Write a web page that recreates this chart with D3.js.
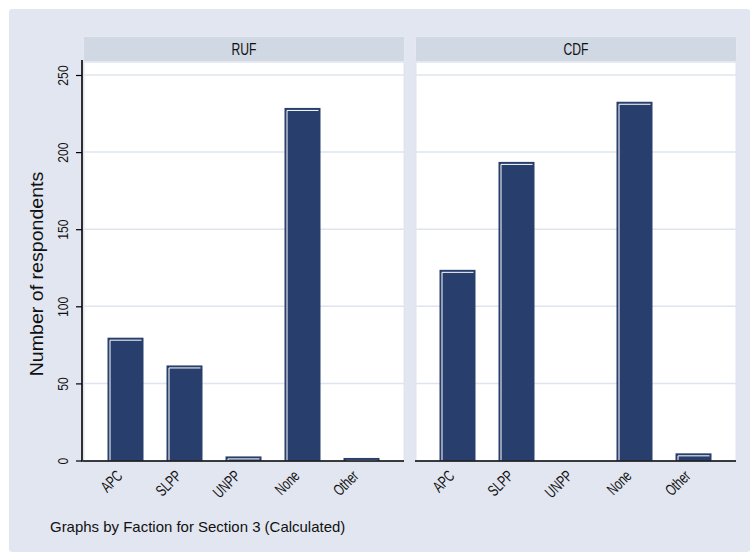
<!DOCTYPE html>
<html>
<head>
<meta charset="utf-8">
<script src="https://cdn.jsdelivr.net/npm/d3@7"></script>
<style>
  html, body { margin: 0; padding: 0; background: #ffffff; }
  svg { display: block; font-family: "Liberation Sans", Arial, sans-serif; }
</style>
</head>
<body>
<svg id="chart" width="750" height="552"></svg>
<script>
// ---- data ----
const categories = ["APC", "SLPP", "UNPP", "None", "Other"];
const panels = ["RUF", "CDF"];
const rufValues = [79, 61, 2, 228, 1];
const cdfValues = [123, 193, 0, 232, 4];
const yTicks = [0, 50, 100, 150, 200, 250];
const yTitle = "Number of respondents";
const note = "Graphs by Faction for Section 3 (Calculated)";

const seriesByPanel = [rufValues, cdfValues];

// ---- styles ----
const BG = "#e1e6f0";
const STRIP = "#d0d8e3";
const STRIP_EDGE = "#e4e8f1";
const GRID = "#dfe4ee";
const NAVY = "#283f6d";

const svg = d3.select("#chart");

// outer graph region
svg.append("rect").attr("x", 9).attr("y", 9).attr("width", 741).attr("height", 543)
  .attr("rx", 3).attr("fill", BG);

const panelX = [[83, 405], [415, 737]];
const stripTop = 36, stripBottom = 62, plotBottom = 461;

const y = d3.scaleLinear().domain([0, 250]).range([460.5, 75]);

panels.forEach((name, pi) => {
  const [x0, x1] = panelX[pi];
  const g = svg.append("g");

  // plot region
  g.append("rect").attr("x", x0 + 0.75).attr("y", stripBottom).attr("width", x1 - x0 - 1.5)
    .attr("height", plotBottom - stripBottom).attr("fill", "#ffffff")
    .attr("stroke", GRID).attr("stroke-width", 1.5);

  // strip
  g.append("rect").attr("x", x0 + 0.5).attr("y", stripTop + 0.5).attr("width", x1 - x0 - 1)
    .attr("height", stripBottom - stripTop - 1).attr("fill", STRIP)
    .attr("stroke", STRIP_EDGE).attr("stroke-width", 1);
  const cx = (x0 + x1) / 2;
  g.append("text").attr("x", 0).attr("y", 0)
    .attr("text-anchor", "middle").attr("font-size", 16).attr("fill", "#111")
    .attr("transform", `translate(${cx},55) scale(0.76,1)`)
    .text(name);

  // gridlines
  g.selectAll("line.grid").data(yTicks.filter(t => t > 0)).join("line")
    .attr("class", "grid")
    .attr("x1", x0 + 1).attr("x2", x1 - 1)
    .attr("y1", d => y(d)).attr("y2", d => y(d))
    .attr("stroke", GRID).attr("stroke-width", 1.5);

  // band scale
  const x = d3.scaleBand().domain(categories).range([x0 + 13, x1 - 14])
    .paddingInner(0.39).paddingOuter(0.195);

  const vals = seriesByPanel[pi];
  const bars = g.selectAll("g.bar").data(categories.map((c, i) => ({ c, v: vals[i] })).filter(d => d.v > 0))
    .join("g").attr("class", "bar");
  bars.append("rect")
    .attr("x", d => x(d.c)).attr("width", x.bandwidth())
    .attr("y", d => y(d.v) - 1).attr("height", d => y(0) - y(d.v) + 1)
    .attr("fill", NAVY);
  bars.append("path")
    .attr("d", d => {
      const bx = x(d.c), bw = x.bandwidth(), ty = y(d.v) - 1;
      return `M${bx + 2.5},${y(0)} V${ty + 2.5} H${bx + bw - 2}`;
    })
    .attr("fill", "none").attr("stroke", "#ffffff").attr("stroke-width", 1);

  // x axis line
  g.append("line").attr("x1", x0).attr("x2", x1 - 1).attr("y1", 461).attr("y2", 461)
    .attr("stroke", "#000").attr("stroke-width", 1.6);

  // x tick labels
  g.selectAll("text.xl").data(categories).join("text")
    .attr("class", "xl")
    .attr("text-anchor", "end").attr("font-size", 16).attr("fill", "#111")
    .attr("transform", c => `translate(${x(c) + x.bandwidth() / 2 - 2},${477}) rotate(-45) scale(0.7,1)`)
    .text(c => c);
});

// y axis
const yAxis = d3.axisLeft(y).tickValues(yTicks).tickSize(6).tickFormat(d3.format("d"));
const ya = svg.append("g").attr("transform", "translate(82,0)").call(yAxis);
ya.select(".domain").attr("d", "M0,60V461.8").attr("stroke", "#000").attr("stroke-width", 1.6);
ya.selectAll(".tick line").attr("stroke", "#000").attr("stroke-width", 1.2);
ya.selectAll(".tick text")
  .attr("font-size", 14).attr("fill", "#111").attr("font-family", "Liberation Sans, Arial, sans-serif")
  .attr("x", null).attr("dy", null)
  .attr("text-anchor", "middle")
  .attr("transform", "translate(-14,0) rotate(-90) scale(0.87,1)")
  .attr("y", 0);

// y title
svg.append("text").attr("transform", "translate(43,274) rotate(-90) scale(1.12,1)")
  .attr("text-anchor", "middle").attr("font-size", 17.5).attr("fill", "#111").text(yTitle);

// note
svg.append("text").attr("transform", "translate(50,532) scale(1.07,1)")
  .attr("font-size", 14).attr("fill", "#111").text(note);
</script>
</body>
</html>
